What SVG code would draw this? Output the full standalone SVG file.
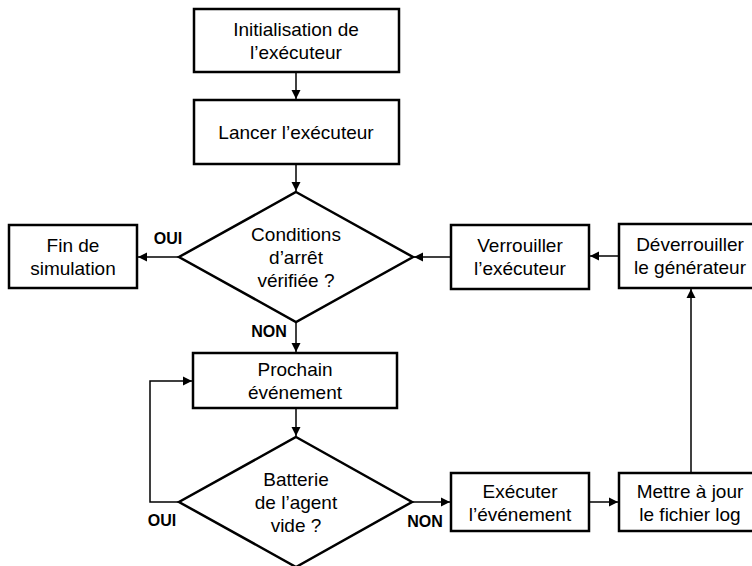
<svg xmlns="http://www.w3.org/2000/svg" width="752" height="566" viewBox="0 0 752 566">
<style>
.box{fill:#fff;stroke:#000;stroke-width:2.5}
.t{font-family:"Liberation Sans",Arial,sans-serif;font-size:19px;fill:#000;text-anchor:middle}
.lbl{font-family:"Liberation Sans",Arial,sans-serif;font-size:16px;font-weight:bold;fill:#000;text-anchor:middle}
.c{fill:none;stroke:#000;stroke-width:1.5}
</style>
<defs>
<marker id="arr" markerUnits="userSpaceOnUse" markerWidth="10" markerHeight="10" refX="9" refY="5" orient="auto">
<path d="M0,0.5 L9,5 L0,9.5 z" fill="#000"/>
</marker>
</defs>
<rect width="752" height="566" fill="#fff"/>
<g id="connectors">
<path class="c" d="M296,72 V99" marker-end="url(#arr)"/>
<path class="c" d="M296,164 V191" marker-end="url(#arr)"/>
<path class="c" d="M179,257 H138" marker-end="url(#arr)"/>
<path class="c" d="M296,322 V352" marker-end="url(#arr)"/>
<path class="c" d="M451,257 H414" marker-end="url(#arr)"/>
<path class="c" d="M619,256 H590" marker-end="url(#arr)"/>
<path class="c" d="M691,473 V289" marker-end="url(#arr)"/>
<path class="c" d="M296,408 V436" marker-end="url(#arr)"/>
<path class="c" d="M179,502 H150 V381 H192" marker-end="url(#arr)"/>
<path class="c" d="M412,502 H450" marker-end="url(#arr)"/>
<path class="c" d="M589,502 H618" marker-end="url(#arr)"/>
<text class="lbl" x="168" y="244">OUI</text>
<text class="lbl" x="269" y="337">NON</text>
<text class="lbl" x="162" y="526">OUI</text>
<text class="lbl" x="425" y="527">NON</text>
</g>
<g id="init">
<rect class="box" x="194" y="9" width="205" height="63"/>
<text class="t" x="296" y="36">Initialisation de</text>
<text class="t" x="296" y="59">l’exécuteur</text>
</g>
<g id="lancer">
<rect class="box" x="194" y="100" width="205" height="64"/>
<text class="t" x="296" y="139">Lancer l’exécuteur</text>
</g>
<g id="conditions">
<polygon class="box" points="296,192 413,257 296,322 179,257"/>
<text class="t" x="296" y="241">Conditions</text>
<text class="t" x="296" y="264">d’arrêt</text>
<text class="t" x="296" y="287">vérifiée ?</text>
</g>
<g id="fin">
<rect class="box" x="9" y="225" width="128" height="63"/>
<text class="t" x="73" y="252">Fin de</text>
<text class="t" x="73" y="275">simulation</text>
</g>
<g id="verrouiller">
<rect class="box" x="451" y="225" width="138" height="64"/>
<text class="t" x="520" y="252">Verrouiller</text>
<text class="t" x="520" y="275">l’exécuteur</text>
</g>
<g id="deverrouiller">
<rect class="box" x="619" y="224" width="143" height="64"/>
<text class="t" x="690" y="251">Déverrouiller</text>
<text class="t" x="690" y="274">le générateur</text>
</g>
<g id="prochain">
<rect class="box" x="193" y="353" width="204" height="55"/>
<text class="t" x="295" y="376">Prochain</text>
<text class="t" x="295" y="399">événement</text>
</g>
<g id="batterie">
<polygon class="box" points="296,437 412,502 296,567 179,502"/>
<text class="t" x="296" y="486">Batterie</text>
<text class="t" x="296" y="509">de l’agent</text>
<text class="t" x="296" y="532">vide ?</text>
</g>
<g id="executer">
<rect class="box" x="451" y="473" width="138" height="58"/>
<text class="t" x="520" y="498">Exécuter</text>
<text class="t" x="520" y="521">l’événement</text>
</g>
<g id="mettre">
<rect class="box" x="619" y="473" width="143" height="58"/>
<text class="t" x="690" y="498">Mettre à jour</text>
<text class="t" x="690" y="521">le fichier log</text>
</g>
</svg>
